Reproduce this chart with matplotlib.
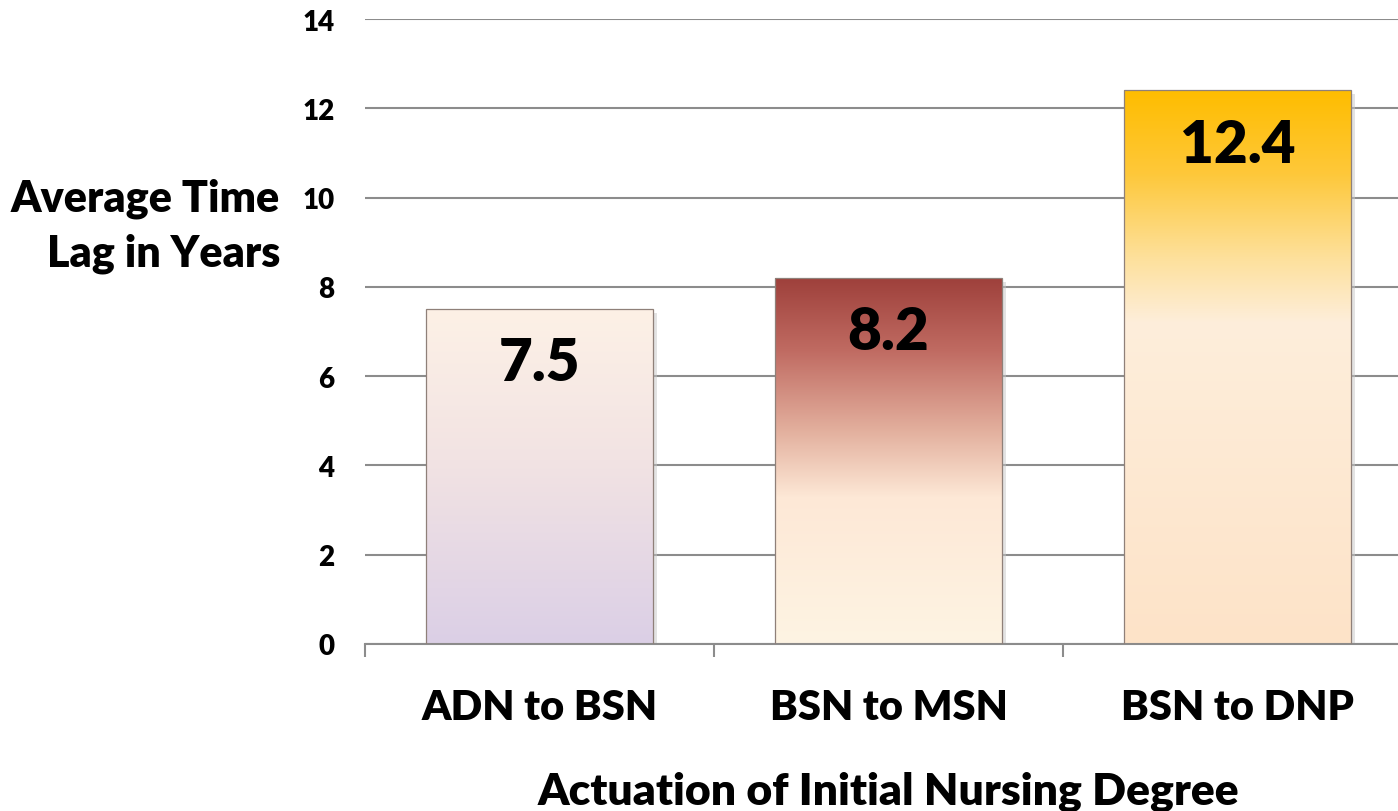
import matplotlib.pyplot as plt
import numpy as np
from matplotlib.colors import LinearSegmentedColormap

# Data
categories = ['ADN to BSN', 'BSN to MSN', 'BSN to DNP']
avg_lag = [7.5, 8.2, 12.4]
y_ticks = [0, 2, 4, 6, 8, 10, 12, 14]

# gradient stops, top -> bottom
gradients = [
    [(0.0, '#fdf1e6'), (0.45, '#f2e3e3'), (1.0, '#dbcfe6')],
    [(0.0, '#9e403b'), (0.2, '#c06b62'), (0.42, '#e3b09e'),
     (0.6, '#fde8d6'), (1.0, '#fef4e3')],
    [(0.0, '#ffbd00'), (0.15, '#fec83a'), (0.3, '#fde09a'),
     (0.42, '#feeedb'), (1.0, '#fde3c8')],
]

plt.rcParams['font.family'] = ['Lato', 'DejaVu Sans']
plt.rcParams['font.weight'] = 'heavy'

fig = plt.figure(figsize=(13.98, 8.12), dpi=100)
ax = fig.add_axes([365 / 1398, 167 / 812, 1047 / 1398, 625 / 812])

x = np.arange(len(categories))
bars = ax.bar(x, avg_lag, width=0.65, color='none', edgecolor='#8f8079',
              linewidth=0.9, zorder=3)

for bar, stops in zip(bars, gradients):
    cmap = LinearSegmentedColormap.from_list('g', stops)
    grad = np.linspace(0, 1, 256).reshape(-1, 1)
    x0, y0 = bar.get_x(), bar.get_y()
    w, h = bar.get_width(), bar.get_height()
    im = ax.imshow(grad, cmap=cmap, aspect='auto', origin='upper',
                   extent=[x0, x0 + w, y0, y0 + h], zorder=2)
    im.set_clip_path(bar)
    # soft shadow
    ax.bar(x0 + w / 2 + 0.012, h, width=w, bottom=-0.08, color='#c8c8c8',
           alpha=0.5, zorder=1.5, linewidth=0)
    ax.text(x0 + w / 2, h - 1.2, '{:.1f}'.format(h), ha='center',
            va='center', fontsize=42, fontweight='heavy', color='black',
            zorder=4)

ax.set_xlim(-0.5, 2.5)
ax.set_ylim(0, 14)
ax.set_yticks(y_ticks)
ax.set_yticklabels([str(t) for t in y_ticks], fontsize=20, fontweight='heavy')
ax.tick_params(axis='y', length=0, pad=22)
ax.set_xticks(x)
ax.set_xticklabels(categories, fontsize=30, fontweight='heavy')
ax.set_xticks([-0.5, 0.5, 1.5, 2.5], minor=True)
ax.tick_params(axis='x', which='major', length=0, pad=32)
ax.tick_params(axis='x', which='minor', length=9, width=1.5, color='#8c8c8c')

ax.yaxis.grid(True, color='#8c8c8c', linewidth=1.5, zorder=0)
ax.set_axisbelow(True)
for side in ['top', 'right', 'left']:
    ax.spines[side].set_visible(False)
ax.spines['bottom'].set_color('#8c8c8c')
ax.spines['bottom'].set_linewidth(1.5)

ax.set_xlabel('Actuation of Initial Nursing Degree', fontsize=32,
              fontweight='heavy', labelpad=32)
fig.text(280 / 1398, 1 - 226 / 812, 'Average Time\nLag in Years',
         ha='right', va='center', fontsize=31, fontweight='heavy',
         linespacing=1.45)

fig.savefig('out.png', dpi=100)
